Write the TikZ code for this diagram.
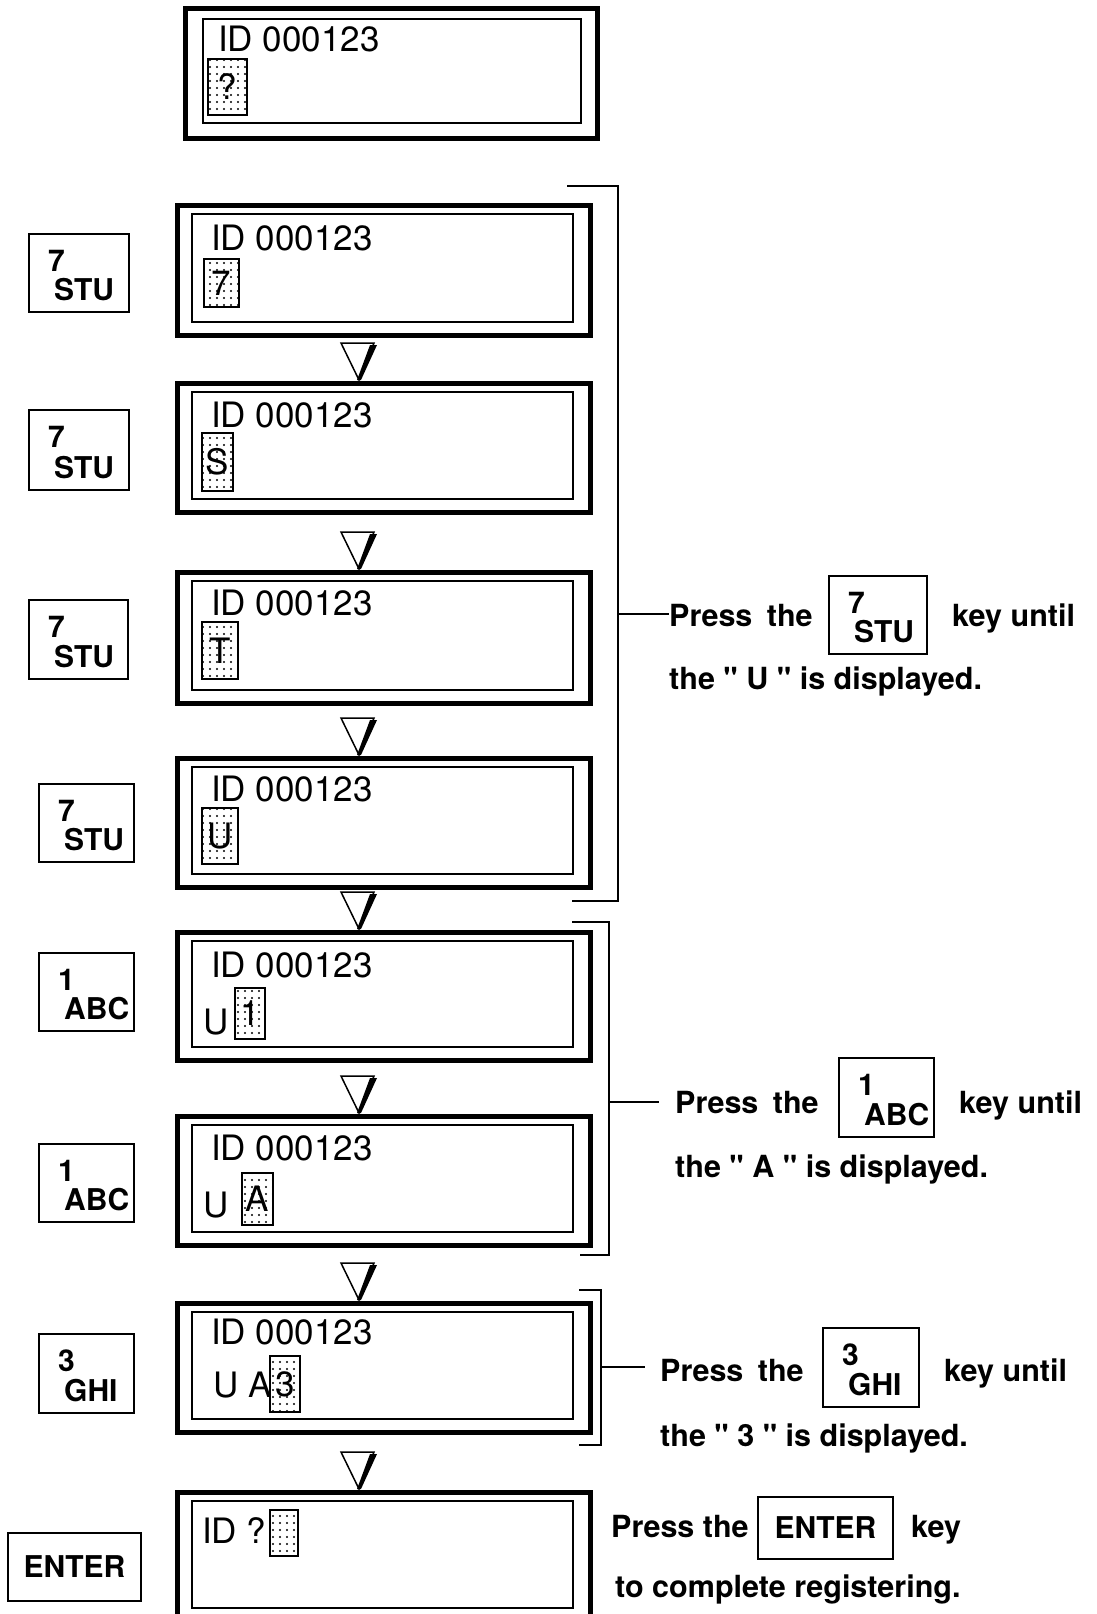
\documentclass[tikz,border=0pt]{standalone}
\usepackage{fontspec}
\setmainfont{TeX Gyre Heros}
\usetikzlibrary{calc,patterns.meta}

\newcommand\dq{{\XeTeXglyph\XeTeXglyphindex "quotedbl"\relax}}

\tikzset{
  outerbox/.style={draw, line width=5pt, anchor=north west, outer sep=0pt, inner sep=0pt},
  innerbox/.style={draw, line width=2.5pt, anchor=north west, outer sep=0pt, inner sep=0pt},
  lcd/.style={font=\fontsize{35}{40}\selectfont, anchor=base west, inner sep=0pt},
  cursorbox/.style={draw, line width=2pt, anchor=north west, outer sep=0pt, inner sep=0pt,
    pattern={Dots[distance=7pt,radius=1.1pt]}, font=\fontsize{35}{40}\selectfont},
  keyframe/.style={draw, line width=2pt, anchor=north west, outer sep=0pt, inner sep=0pt},
  keytxt/.style={font=\bfseries\fontsize{30}{34}\selectfont, anchor=base west, inner sep=0pt},
  note/.style={font=\bfseries\fontsize{30.5}{34}\selectfont, anchor=base west, inner sep=0pt},
  bracket/.style={line width=2.5pt},
  tri/.style={line width=1.5pt, fill=white},
}

% screen: name, x, ytop, outer height
\newcommand\screen[4]{%
  \node[outerbox, minimum width=413pt, minimum height=#4pt] (#1) at (#2,#3) {};
  \node[innerbox, minimum width=381pt, minimum height=#4pt-22pt] (#1-in) at ($(#1.north west)+(15,9)$) {};
}
% key: name, x, y, width, height, digit, letters
\newcommand\keybox[7]{%
  \node[keyframe, minimum width=#4pt, minimum height=#5pt] (#1) at (#2,#3) {};
  \node[keytxt] (#1-d) at ($(#1.north west)+(19,37)$) {#6};
  \node[keytxt] (#1-l) at ($(#1.south west)+(25,-12)$) {#7};
}
% triangle arrow above screen named #1
\newcommand\downtri[1]{%
  \draw[tri] ($(#1.north west)+(164,-40)$) -- ($(#1.north west)+(197,-40)$) -- ($(#1.north west)+(182,-3)$) -- cycle;
  \fill ($(#1.north west)+(193,-38)$) -- ($(#1.north west)+(200,-38)$) -- ($(#1.north west)+(184,-3)$) -- ($(#1.north west)+(180,-3)$) -- cycle;
}

\begin{document}
\begin{tikzpicture}[x=1pt,y=-1pt]
\useasboundingbox (0,0) rectangle (1097,1614);
\clip (0,0) rectangle (1097,1614);
\fill[white] (0,0) rectangle (1097,1614);

% ---------- top screen ----------
\node[outerbox, minimum width=412pt, minimum height=130pt] (b1) at (185,8) {};
\node[innerbox, minimum width=378pt, minimum height=104pt] (b1-in) at (203,19) {};
\node[lcd] (b1-t) at (218,51) {ID 000123};
\node[cursorbox, minimum width=39pt, minimum height=56pt] (b1-c) at (208,59) {?};

% ---------- screens ----------
\screen{b2}{177}{205}{130}
\node[lcd] (b2-t) at (211,250) {ID 000123};
\node[cursorbox, minimum width=35pt, minimum height=48pt] (b2-c) at (204,259) {7};

\screen{b3}{177}{383}{129}
\node[lcd] (b3-t) at (211,427) {ID 000123};
\node[cursorbox, minimum width=31pt, minimum height=58pt] (b3-c) at (202,433) {S};

\screen{b4}{177}{572}{131}
\node[lcd] (b4-t) at (211,615) {ID 000123};
\node[cursorbox, minimum width=36pt, minimum height=57pt] (b4-c) at (202,622) {T};

\screen{b5}{177}{758}{129}
\node[lcd] (b5-t) at (211,801) {ID 000123};
\node[cursorbox, minimum width=36pt, minimum height=56pt] (b5-c) at (202,808) {U};

\screen{b6}{177}{932}{128}
\node[lcd] (b6-t) at (211,977) {ID 000123};
\node[lcd] (b6-u) at (203,1034) {U};
\node[cursorbox, minimum width=30pt, minimum height=51pt] (b6-c) at (235,988) {1};

\screen{b7}{177}{1116}{129}
\node[lcd] (b7-t) at (211,1160) {ID 000123};
\node[lcd] (b7-u) at (203,1217) {U};
\node[cursorbox, minimum width=31pt, minimum height=52pt] (b7-c) at (242,1173) {A};

\screen{b8}{177}{1303}{129}
\node[lcd] (b8-t) at (211,1344) {ID 000123};
\node[lcd] (b8-u) at (213,1397) {U A};
\node[cursorbox, minimum width=30pt, minimum height=56pt] (b8-c) at (270,1356) {3};

\screen{b9}{177}{1492}{129}
\node[lcd] (b9-t) at (202,1543) {ID ?};
\node[cursorbox, minimum width=28pt, minimum height=46pt] (b9-c) at (270,1510) {};

% ---------- arrows ----------
\downtri{b3}
\downtri{b4}
\downtri{b5}
\downtri{b6}
\downtri{b7}
\downtri{b8}
\downtri{b9}

% ---------- keys on the left ----------
\keybox{k1}{29}{234}{100}{78}{7}{STU}
\keybox{k2}{29}{410}{100}{80}{7}{STU}
\keybox{k3}{29}{600}{99}{79}{7}{STU}
\keybox{k4}{39}{784}{95}{78}{7}{STU}
\keybox{k5}{39}{953}{95}{78}{1}{ABC}
\keybox{k6}{39}{1144}{95}{78}{1}{ABC}
\keybox{k7}{39}{1334}{95}{79}{3}{GHI}
\node[keyframe, minimum width=133pt, minimum height=68pt, font=\bfseries\fontsize{30}{34}\selectfont, anchor=north west] (k8) at (8,1533) {ENTER};

% ---------- brackets ----------
\coordinate (br1t) at (567,186);
\coordinate (br1b) at (572,901);
\coordinate (br1m) at (618,614);
\draw[bracket] (br1t) -- ++(51,0) |- (br1b);

\coordinate (br2t) at (572,922);
\coordinate (br2b) at (580,1255);
\coordinate (br2m) at (609,1102);
\draw[bracket] (br2t) -- ++(37,0) |- (br2b);

\coordinate (br3t) at (579,1290);
\coordinate (br3b) at (579,1445);
\coordinate (br3m) at (601,1367);
\draw[bracket] (br3t) -- ++(22,0) |- (br3b);

% ---------- notes ----------
\node[note] (n1a) at (669,626) {Press\hspace{6pt} the};
\keybox{nk1}{829}{576}{98}{78}{7}{STU}
\node[note] (n1b) at (952,626) {key until};
\node[note] (n1c) at (669,689) {the \dq{} U \dq{} is displayed.};
\draw[bracket] (br1m) -- (br1m -| n1a.west);

\node[note] (n2a) at (675,1113) {Press\hspace{6pt} the};
\keybox{nk2}{839}{1058}{95}{79}{1}{ABC}
\node[note] (n2b) at (959,1113) {key until};
\node[note] (n2c) at (675,1177) {the \dq{} A \dq{} is displayed.};
\draw[bracket] (br2m) -- ($(br2m -| n2a.west)+(-16,0)$);

\node[note] (n3a) at (660,1381) {Press\hspace{6pt} the};
\keybox{nk3}{823}{1328}{96}{79}{3}{GHI}
\node[note] (n3b) at (944,1381) {key until};
\node[note] (n3c) at (660,1446) {the \dq{} 3 \dq{} is displayed.};
\draw[bracket] (br3m) -- ($(br3m -| n3a.west)+(-15,0)$);

\node[note] (n4a) at (611,1537) {Press the};
\node[keyframe, minimum width=135pt, minimum height=62pt, font=\bfseries\fontsize{30}{34}\selectfont] (nk4) at (758,1497) {ENTER};
\node[note] (n4b) at (911,1537) {key};
\node[note] (n4c) at (615,1597) {to complete registering.};
\end{tikzpicture}
\end{document}
